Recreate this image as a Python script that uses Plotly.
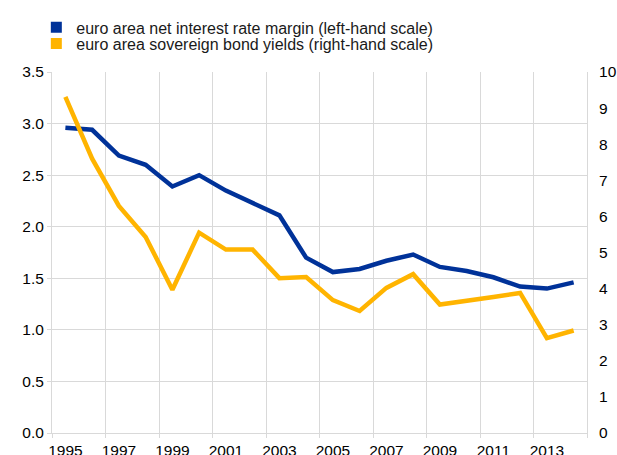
import plotly.graph_objects as go

years = list(range(1995, 2015))
net_interest_margin = [2.96, 2.94, 2.69, 2.60, 2.39, 2.50, 2.35, 2.23, 2.11, 1.70,
                       1.56, 1.59, 1.67, 1.73, 1.61, 1.57, 1.51, 1.42, 1.40, 1.46]
bond_yields = [9.31, 7.60, 6.29, 5.43, 3.97, 5.55, 5.08, 5.08, 4.29, 4.32,
               3.68, 3.38, 4.02, 4.40, 3.56, 3.68, 3.77, 3.88, 2.63, 2.84]
x_tick_labels = [str(y) for y in range(1995, 2015, 2)]
names = ["euro area net interest rate margin (left-hand scale)",
         "euro area sovereign bond yields (right-hand scale)"]
BLUE = "#003299"
YELLOW = "#FFB400"
GRID = "#d9d9d9"
FONT = "Liberation Sans, Arial, sans-serif"

fig = go.Figure()
fig.add_trace(go.Scatter(x=years, y=net_interest_margin, mode="lines",
                         line=dict(color=BLUE, width=4.5), showlegend=False, yaxis="y"))
fig.add_trace(go.Scatter(x=years, y=bond_yields, mode="lines",
                         line=dict(color=YELLOW, width=4.5), showlegend=False, yaxis="y2"))
# legend entries with square symbols
for nm, col, lg in zip(names, [BLUE, YELLOW], ["legend", "legend2"]):
    fig.add_trace(go.Scatter(x=[None], y=[None], mode="markers", name=nm, legend=lg,
                             marker=dict(symbol="square", size=11, color=col)))

legend_common = dict(xref="paper", yref="container", xanchor="left", yanchor="top",
                     orientation="v", font=dict(size=16, color="#1a1a1a"),
                     itemwidth=30, bgcolor="rgba(0,0,0,0)")

fig.update_layout(
    width=617, height=455,
    margin=dict(l=52, r=30, t=72, b=22),
    paper_bgcolor="white", plot_bgcolor="white",
    font=dict(family=FONT, size=15.5, color="#000000"),
    legend=dict(x=-0.0293, y=0.977, **legend_common),
    legend2=dict(x=-0.0293, y=0.9415, **legend_common),
    xaxis=dict(range=[1994.5, 2014.5], tickmode="array", automargin=False,
               tickvals=[int(t) for t in x_tick_labels], ticktext=x_tick_labels,
               showgrid=False, ticks="", zeroline=False, ticklabelstandoff=3,
               showline=True, linecolor=GRID, linewidth=1,
               minor=dict(tickmode="linear", tick0=1994.5, dtick=2, showgrid=True,
                          gridcolor=GRID, gridwidth=1, ticks="outside", ticklen=4,
                          tickcolor=GRID)),
    yaxis=dict(range=[0, 3.5], dtick=0.5, tickformat=".1f", showgrid=True,
               automargin=False,
               gridcolor=GRID, gridwidth=1, zeroline=False,
               showline=True, linecolor=GRID, ticks="outside", ticklen=4,
               tickcolor=GRID),
    yaxis2=dict(range=[0, 10], dtick=1, overlaying="y", side="right",
                automargin=False,
                showgrid=False, zeroline=False, showline=True, linecolor=GRID,
                ticks="", ticklabelstandoff=8),
)

fig.write_html("out.html", config={"displayModeBar": False},
               post_script="document.body.style.margin='0';")
